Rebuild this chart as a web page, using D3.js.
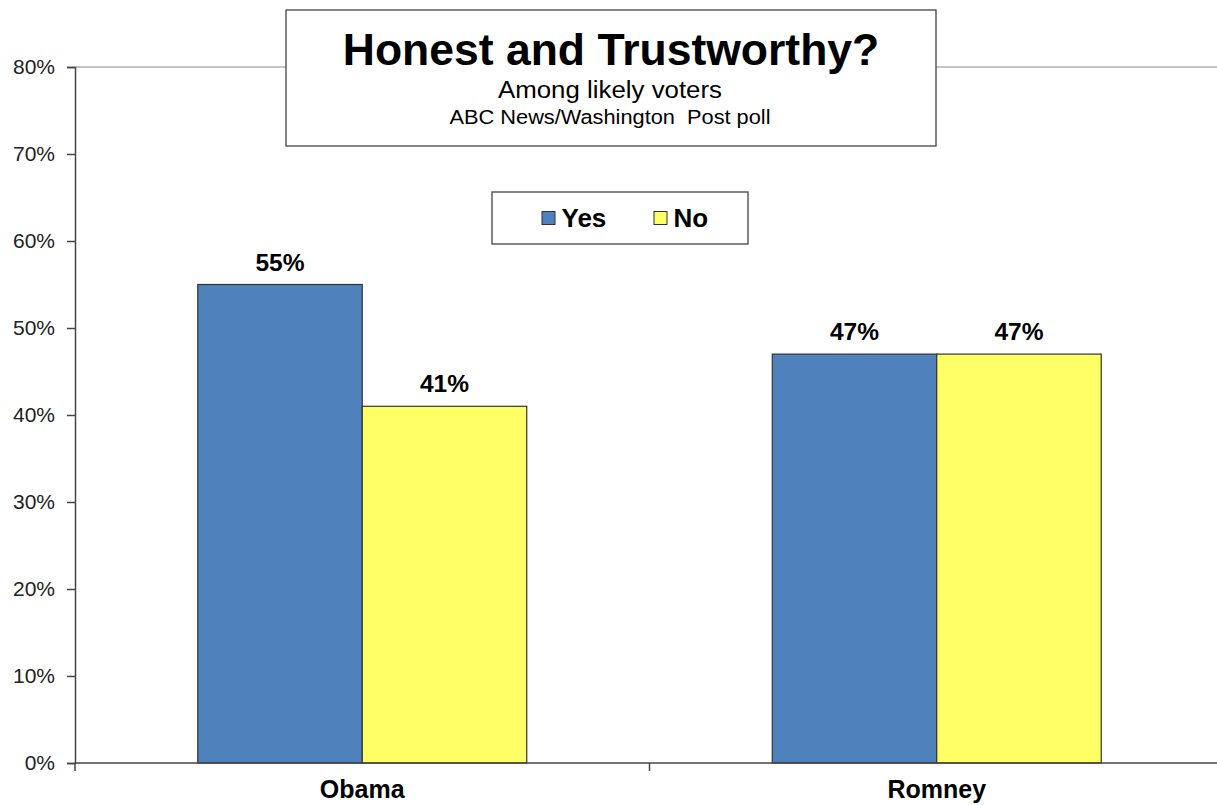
<!DOCTYPE html>
<html><head><meta charset="utf-8">
<script src="https://cdn.jsdelivr.net/npm/d3@7"></script>
<style>body{margin:0;background:#fff;font-family:"Liberation Sans",Arial,sans-serif;}</style>
</head><body>
<svg id="chart" width="1217" height="805"></svg>
<script>
const categories = ["Obama", "Romney"];
const seriesNames = ["Yes", "No"];
const yesValues = [55, 47];
const noValues = [41, 47];
const yTicks = [0, 10, 20, 30, 40, 50, 60, 70, 80];
const colors = ["#4F81BD", "#FFFF66"];
const titleText = "Honest and Trustworthy?";
const subtitle1 = "Among likely voters";
const subtitle2 = "ABC News/Washington  Post poll";

const svg = d3.select("#chart");
const plotLeft = 75, plotRight = 1224, plotTop = 67, plotBottom = 763;

const y = d3.scaleLinear().domain([0, 80]).range([plotBottom, plotTop]);
const x0 = d3.scaleBand().domain(categories).range([plotLeft, plotRight]).padding(0);
const x1 = d3.scaleBand().domain(seriesNames)
  .range([x0.bandwidth() * 0.2137, x0.bandwidth() * 0.7863]).padding(0);

const data = categories.map((c, i) => ({cat: c, vals: [
  {s: "Yes", v: yesValues[i]}, {s: "No", v: noValues[i]}]}));

// top border line (80%)
svg.append("line").attr("x1", plotLeft).attr("x2", 1217).attr("y1", y(80)).attr("y2", y(80))
  .attr("stroke", "#888").attr("stroke-width", 1);

// bars
const g = svg.append("g");
data.forEach(d => {
  g.selectAll(null).data(d.vals).enter().append("rect")
    .attr("x", e => x0(d.cat) + x1(e.s))
    .attr("y", e => y(e.v))
    .attr("width", x1.bandwidth())
    .attr("height", e => y(0) - y(e.v))
    .attr("fill", e => colors[seriesNames.indexOf(e.s)])
    .attr("stroke", "#333").attr("stroke-width", 1.2);
  g.selectAll(null).data(d.vals).enter().append("text")
    .attr("x", e => x0(d.cat) + x1(e.s) + x1.bandwidth() / 2)
    .attr("y", e => y(e.v) - 14)
    .attr("text-anchor", "middle")
    .attr("font-size", 24.5).attr("font-weight", "bold").attr("fill", "#000")
    .text(e => e.v + "%");
});

// y axis
const yAxis = d3.axisLeft(y).tickValues(yTicks).tickFormat(d => d + "%").tickSize(8).tickPadding(12);
const ya = svg.append("g").attr("transform", `translate(${plotLeft},0)`).call(yAxis);
ya.select(".domain").attr("stroke", "#444").attr("stroke-width", 1.5);
ya.selectAll(".tick line").attr("stroke", "#444").attr("stroke-width", 1.5);
ya.selectAll(".tick text").attr("font-size", 21).attr("fill", "#222")
  .attr("font-family", "Liberation Sans, Arial, sans-serif");

// x axis
svg.append("line").attr("x1", plotLeft).attr("x2", 1217).attr("y1", plotBottom).attr("y2", plotBottom)
  .attr("stroke", "#444").attr("stroke-width", 1.5);
const boundaries = [plotLeft, x0(categories[1])];
svg.selectAll(null).data(boundaries).enter().append("line")
  .attr("x1", d => d).attr("x2", d => d).attr("y1", plotBottom).attr("y2", plotBottom + 8)
  .attr("stroke", "#444").attr("stroke-width", 1.5);
svg.selectAll(null).data(categories).enter().append("text")
  .attr("x", d => x0(d) + x0.bandwidth() / 2)
  .attr("y", 798)
  .attr("text-anchor", "middle").attr("font-size", 25).attr("font-weight", "bold")
  .text(d => d);

// title box
svg.append("rect").attr("x", 286).attr("y", 10).attr("width", 650).attr("height", 136)
  .attr("fill", "#fff").attr("stroke", "#333").attr("stroke-width", 1.2);
svg.append("text").attr("x", 611).attr("y", 65).attr("text-anchor", "middle")
  .attr("font-size", 44.5).attr("font-weight", "bold").text(titleText);
svg.append("text").attr("x", 610).attr("y", 98).attr("text-anchor", "middle")
  .attr("font-size", 23).attr("textLength", 224).attr("lengthAdjust", "spacingAndGlyphs").text(subtitle1);
svg.append("text").attr("x", 610).attr("y", 124).attr("text-anchor", "middle")
  .attr("font-size", 20).attr("textLength", 321).attr("lengthAdjust", "spacingAndGlyphs")
  .style("white-space", "pre").text(subtitle2);

// legend
svg.append("rect").attr("x", 492).attr("y", 192).attr("width", 256).attr("height", 52)
  .attr("fill", "#fff").attr("stroke", "#333").attr("stroke-width", 1.2);
const legX = [542, 654];
seriesNames.forEach((s, i) => {
  svg.append("rect").attr("x", legX[i]).attr("y", 211.5).attr("width", 13).attr("height", 13)
    .attr("fill", colors[i]).attr("stroke", "#333").attr("stroke-width", 1);
  svg.append("text").attr("x", legX[i] + 19.5).attr("y", 226.5)
    .attr("font-size", 26).attr("font-weight", "bold").text(s);
});
</script>
</body></html>
